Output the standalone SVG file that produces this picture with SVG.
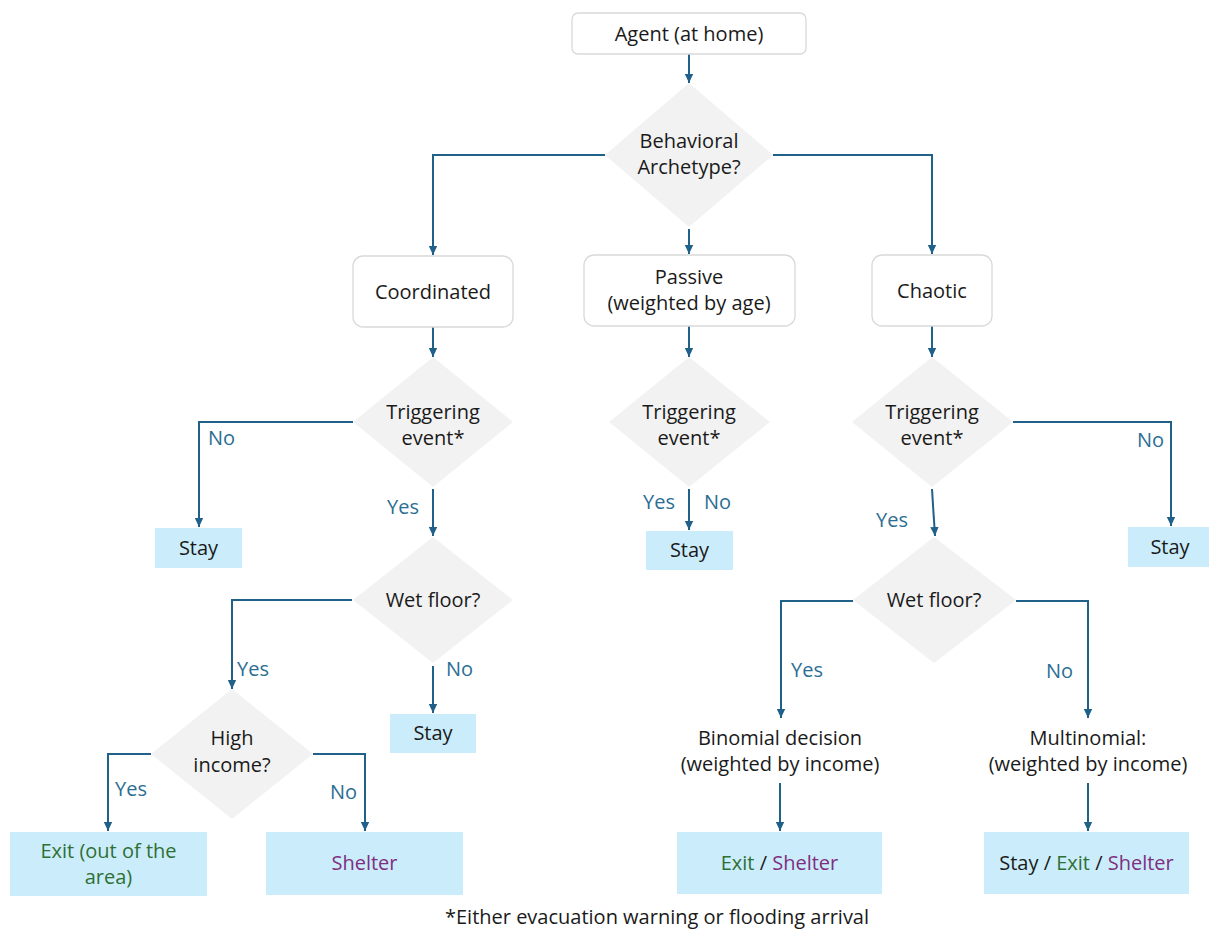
<svg xmlns="http://www.w3.org/2000/svg" width="1209" height="936" viewBox="0 0 1209 936">
<style>
text{font-family:"Open Sans","Liberation Sans",sans-serif;font-size:20px;fill:#1a1a1a;text-anchor:middle}
.lbl{fill:#2b6e93;text-anchor:start}
.exit{fill:#2f6f34}
.shel{fill:#7f2f7f}
.rbox{fill:#fff;stroke:#d9d9d9;stroke-width:1.3}
.dia{fill:#f2f2f2}
.out{fill:#cbedfb}
.con{fill:none;stroke:#1f6189;stroke-width:2;marker-end:url(#ah)}
</style>
<defs>
<marker id="ah" markerUnits="userSpaceOnUse" markerWidth="10" markerHeight="10" viewBox="0 0 10 10" refX="9" refY="5" orient="auto">
<path d="M0,0.8 L9,5 L0,9.2 Z" fill="#1f6189"/>
</marker>
</defs>
<rect width="1209" height="936" fill="#fff"/>

<g id="connectors">
<path class="con" d="M689 54 V83"/>
<path class="con" d="M605 155 H433 V255"/>
<path class="con" d="M773 155 H932 V254"/>
<path class="con" d="M689 229 V254"/>
<path class="con" d="M433 327 V357"/>
<path class="con" d="M689 326 V357"/>
<path class="con" d="M932 326 V357"/>
<path class="con" d="M353 422 H199 V527"/>
<path class="con" d="M433 489 V536"/>
<path class="con" d="M689 489 V530"/>
<path class="con" d="M1013 422 H1171 V526"/>
<path class="con" d="M932 489 L935 536"/>
<path class="con" d="M352 600 H232 V689"/>
<path class="con" d="M433 666 V713"/>
<path class="con" d="M151 754 H108 V831"/>
<path class="con" d="M313 754 H365 V831"/>
<path class="con" d="M853 601 H781 V718"/>
<path class="con" d="M1016 601 H1088 V718"/>
<path class="con" d="M780 783 V831"/>
<path class="con" d="M1088 783 V831"/>
<text class="lbl" x="208" y="445">No</text>
<text class="lbl" x="387" y="514">Yes</text>
<text class="lbl" x="643" y="509">Yes</text>
<text class="lbl" x="704" y="509">No</text>
<text class="lbl" x="1137" y="447">No</text>
<text class="lbl" x="876" y="527">Yes</text>
<text class="lbl" x="237" y="676">Yes</text>
<text class="lbl" x="446" y="676">No</text>
<text class="lbl" x="115" y="796">Yes</text>
<text class="lbl" x="330" y="799">No</text>
<text class="lbl" x="791" y="677">Yes</text>
<text class="lbl" x="1046" y="678">No</text>
</g>

<g id="agent">
<rect class="rbox" x="572" y="13" width="234" height="41" rx="6"/>
<text x="689" y="41">Agent (at home)</text>
</g>

<g id="archetype">
<polygon class="dia" points="689,83 773,155 689,227 605,155"/>
<text x="689" y="148">Behavioral</text>
<text x="689" y="174">Archetype?</text>
</g>

<g id="coordinated">
<rect class="rbox" x="353" y="256" width="160" height="71" rx="10"/>
<text x="433" y="299">Coordinated</text>
</g>

<g id="passive">
<rect class="rbox" x="584" y="255" width="211" height="71" rx="10"/>
<text x="689" y="284">Passive</text>
<text x="689" y="310">(weighted by age)</text>
</g>

<g id="chaotic">
<rect class="rbox" x="872" y="255" width="120" height="71" rx="10"/>
<text x="932" y="298">Chaotic</text>
</g>

<g id="trigger-coord">
<polygon class="dia" points="433,357 513,422 433,487 353,422"/>
<text x="433" y="419">Triggering</text>
<text x="433" y="445">event*</text>
</g>

<g id="trigger-passive">
<polygon class="dia" points="689,357 770,422 689,487 609,422"/>
<text x="689" y="419">Triggering</text>
<text x="689" y="445">event*</text>
</g>

<g id="trigger-chaotic">
<polygon class="dia" points="932,357 1013,422 932,487 852,422"/>
<text x="932" y="419">Triggering</text>
<text x="932" y="445">event*</text>
</g>

<g id="stay-coord">
<rect class="out" x="155" y="528" width="87" height="40"/>
<text x="198.5" y="555">Stay</text>
</g>

<g id="stay-passive">
<rect class="out" x="646" y="531" width="87" height="39"/>
<text x="689.5" y="557">Stay</text>
</g>

<g id="stay-chaotic">
<rect class="out" x="1128" y="527" width="81" height="40"/>
<text x="1170" y="554">Stay</text>
</g>

<g id="wet-left">
<polygon class="dia" points="433,537 513,600 433,663 353,600"/>
<text x="433" y="607">Wet floor?</text>
</g>

<g id="stay-wet">
<rect class="out" x="390" y="714" width="86" height="39"/>
<text x="433" y="740">Stay</text>
</g>

<g id="high-income">
<polygon class="dia" points="232,689 313,754 232,819 151,754"/>
<text x="232" y="745">High</text>
<text x="232" y="772">income?</text>
</g>

<g id="exit-left">
<rect class="out" x="10" y="832" width="197" height="64"/>
<text class="exit" x="108.5" y="858">Exit (out of the</text>
<text class="exit" x="108.5" y="884">area)</text>
</g>

<g id="shelter-left">
<rect class="out" x="266" y="832" width="197" height="63"/>
<text class="shel" x="364.5" y="870">Shelter</text>
</g>

<g id="wet-right">
<polygon class="dia" points="934,537 1016,600 934,663 853,600"/>
<text x="934" y="607">Wet floor?</text>
</g>

<g id="binomial">
<text x="780" y="745">Binomial decision</text>
<text x="780" y="771">(weighted by income)</text>
</g>

<g id="multinomial">
<text x="1088" y="745">Multinomial:</text>
<text x="1088" y="771">(weighted by income)</text>
</g>

<g id="exit-shelter">
<rect class="out" x="677" y="832" width="205" height="62"/>
<text x="779.5" y="870"><tspan class="exit">Exit</tspan> / <tspan class="shel">Shelter</tspan></text>
</g>

<g id="stay-exit-shelter">
<rect class="out" x="984" y="832" width="205" height="62"/>
<text x="1086.5" y="870">Stay / <tspan class="exit">Exit</tspan> / <tspan class="shel">Shelter</tspan></text>
</g>

<g id="footnote">
<text x="657" y="924">*Either evacuation warning or flooding arrival</text>
</g>
</svg>
